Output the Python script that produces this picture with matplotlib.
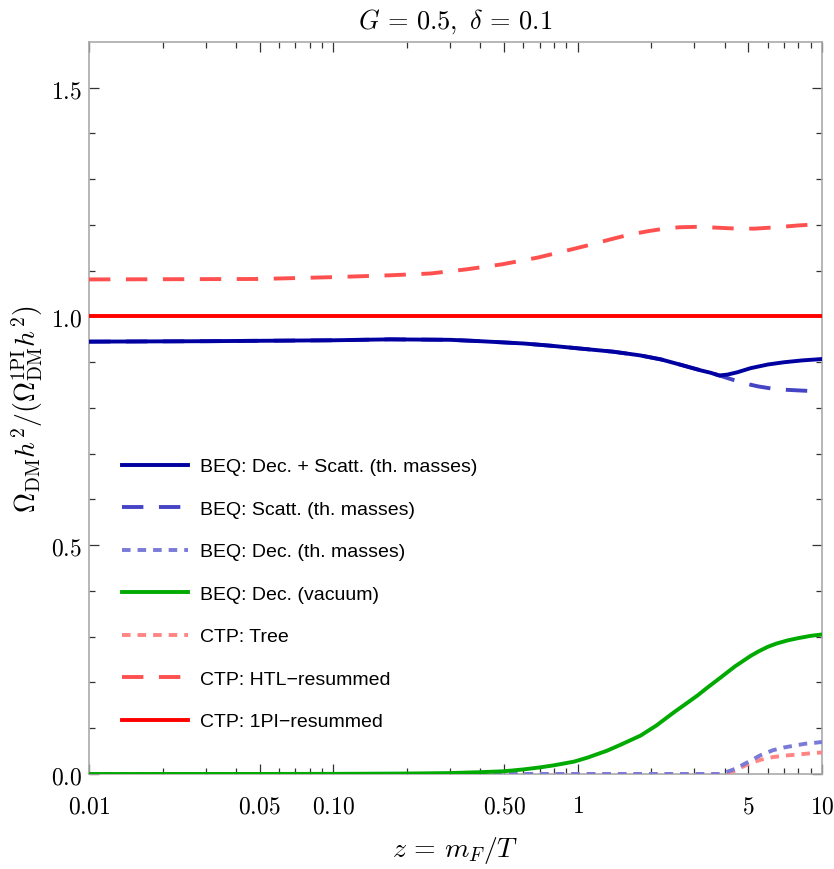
import matplotlib
matplotlib.use("Agg")
import matplotlib.pyplot as plt
from matplotlib.ticker import FixedLocator, NullFormatter

plt.rcParams['mathtext.fontset'] = 'cm'

# --- data ---
z_1pi = [0.01, 10]
v_1pi = [1.0, 1.0]

z_htl = [0.01, 0.05, 0.1, 0.17, 0.25, 0.35, 0.49, 0.69, 0.95, 1.15, 1.35, 1.6, 1.92, 2.2, 2.6, 3.1, 3.75, 4.5, 5.3, 6.5, 8.0, 10]
v_htl = [1.081, 1.082, 1.086, 1.090, 1.094, 1.103, 1.114, 1.129, 1.147, 1.158, 1.168, 1.178, 1.186, 1.191, 1.195, 1.196, 1.194, 1.192, 1.192, 1.195, 1.199, 1.202]

z_full = [0.01, 0.03, 0.1, 0.17, 0.3, 0.4, 0.6, 0.78, 1.02, 1.4, 1.8, 2.2, 2.7, 3.2, 3.5, 3.8, 4.1, 4.5, 5.1, 6.0, 7.0, 8.3, 10]
v_full = [0.945, 0.946, 0.948, 0.950, 0.949, 0.946, 0.941, 0.936, 0.930, 0.923, 0.915, 0.906, 0.893, 0.882, 0.877, 0.871, 0.873, 0.878, 0.887, 0.895, 0.900, 0.904, 0.907]

z_scatt = [0.01, 0.03, 0.1, 0.17, 0.3, 0.4, 0.6, 0.78, 1.02, 1.4, 1.8, 2.2, 2.7, 3.2, 3.5, 3.8, 4.3, 4.8, 5.5, 6.3, 7.0, 8.3, 10]
v_scatt = [0.945, 0.946, 0.948, 0.950, 0.949, 0.946, 0.941, 0.936, 0.930, 0.923, 0.915, 0.906, 0.893, 0.882, 0.877, 0.871, 0.862, 0.854, 0.847, 0.842, 0.840, 0.838, 0.836]

z_dec = [0.01, 3.8, 4.1, 4.4, 4.7, 5.1, 5.6, 6.3, 7.0, 7.7, 8.5, 9.3, 10]
v_dec = [0.0, 0.0, 0.005, 0.011, 0.019, 0.029, 0.041, 0.052, 0.058, 0.062, 0.066, 0.068, 0.070]

z_vac = [0.01, 0.05, 0.1, 0.2, 0.3, 0.4, 0.5, 0.6, 0.705, 0.8, 0.966, 1.1, 1.32, 1.5, 1.81, 2.1, 2.48, 2.8, 3.1, 3.4, 3.85, 4.4, 5.1, 5.5, 6.0, 6.5, 7.23, 8.0, 9.0, 10]
v_vac = [0.0, 0.0001, 0.0003, 0.001, 0.002, 0.004, 0.006, 0.010, 0.0146, 0.019, 0.027, 0.036, 0.051, 0.064, 0.084, 0.106, 0.135, 0.155, 0.172, 0.189, 0.211, 0.235, 0.258, 0.268, 0.278, 0.285, 0.292, 0.297, 0.302, 0.305]

z_tree = [0.01, 3.8, 4.1, 4.4, 4.7, 5.1, 5.6, 6.3, 7.0, 7.7, 8.5, 9.3, 10]
v_tree = [0.0, 0.0, 0.003, 0.007, 0.015, 0.024, 0.031, 0.037, 0.040, 0.042, 0.044, 0.046, 0.047]

x_major = [0.01, 0.05, 0.1, 0.5, 1, 5, 10]
x_labels = ['0.01', '0.05', '0.10', '0.50', '1', '5', '10']
y_major = [0.0, 0.5, 1.0, 1.5]
y_labels = ['0.0', '0.5', '1.0', '1.5']

fig = plt.figure(figsize=(8.34, 8.7), dpi=100)
ax = fig.add_axes([0.1067, 0.1092, 0.8789, 0.8414])

lw = 2.8
ax.plot(z_full, v_full, color='#0000a0', lw=lw, label='BEQ: Dec. + Scatt. (th. masses)', zorder=5)
ax.plot(z_scatt, v_scatt, color='#4444c4', lw=lw, dashes=(5.5, 4), label='BEQ: Scatt. (th. masses)', zorder=4)
ax.plot(z_dec, v_dec, color='#7a7ad8', lw=lw, dashes=(2.2, 1.8), label='BEQ: Dec. (th. masses)', zorder=4)
ax.plot(z_vac, v_vac, color='#00aa00', lw=lw, label='BEQ: Dec. (vacuum)', zorder=4)
ax.plot(z_tree, v_tree, color='#ff8585', lw=lw, dashes=(2.2, 1.8), label='CTP: Tree', zorder=3)
ax.plot(z_htl, v_htl, color='#ff5050', lw=lw, dashes=(5.5, 4), label='CTP: HTL\u2212resummed', zorder=3)
ax.plot(z_1pi, v_1pi, color='#ff0000', lw=lw, label='CTP: 1PI\u2212resummed', zorder=5)

ax.set_xscale('log')
ax.set_xlim(0.01, 10)
ax.set_ylim(0, 1.6)

minors = []
for d in [0.01, 0.1, 1]:
    for k in range(2, 10):
        if k != 5:
            minors.append(k * d)
ax.xaxis.set_major_locator(FixedLocator(x_major))
ax.xaxis.set_minor_locator(FixedLocator(minors))
ax.xaxis.set_minor_formatter(NullFormatter())
ax.set_xticklabels(['$' + s + '$' for s in x_labels])
ax.yaxis.set_major_locator(FixedLocator(y_major))
ax.yaxis.set_minor_locator(FixedLocator([i / 10 for i in range(1, 16) if i % 5 != 0]))
ax.set_yticklabels(['$' + s + '$' for s in y_labels])

ax.tick_params(which='both', direction='in', top=True, right=True, color='#333333', width=0.9, labelsize=17)
ax.tick_params(which='major', length=7)
ax.tick_params(which='minor', length=4.5)
ax.tick_params(axis='x', pad=14)
ax.tick_params(axis='y', pad=5)
for s in ax.spines.values():
    s.set_color('#aaaaaa')
    s.set_linewidth(1.2)

ax.set_xlabel(r'$z\,=\,m_F/T$', fontsize=20, labelpad=12)
ax.set_ylabel(r'$\Omega_{\rm DM}h^2/(\Omega_{\rm DM}^{\rm 1PI}h^2)$', fontsize=20, labelpad=4)
ax.set_title(r'$G\,=\,0.5,\ \delta\,=\,0.1$', fontsize=19, pad=10)

leg = ax.legend(loc='upper left', bbox_to_anchor=(0.045, 0.432), frameon=False,
                prop={'family': 'Liberation Sans', 'size': 14},
                handlelength=3.4, handletextpad=0.62, labelspacing=1.28,
                borderpad=0, borderaxespad=0)

fig.savefig('out.png', dpi=100)
